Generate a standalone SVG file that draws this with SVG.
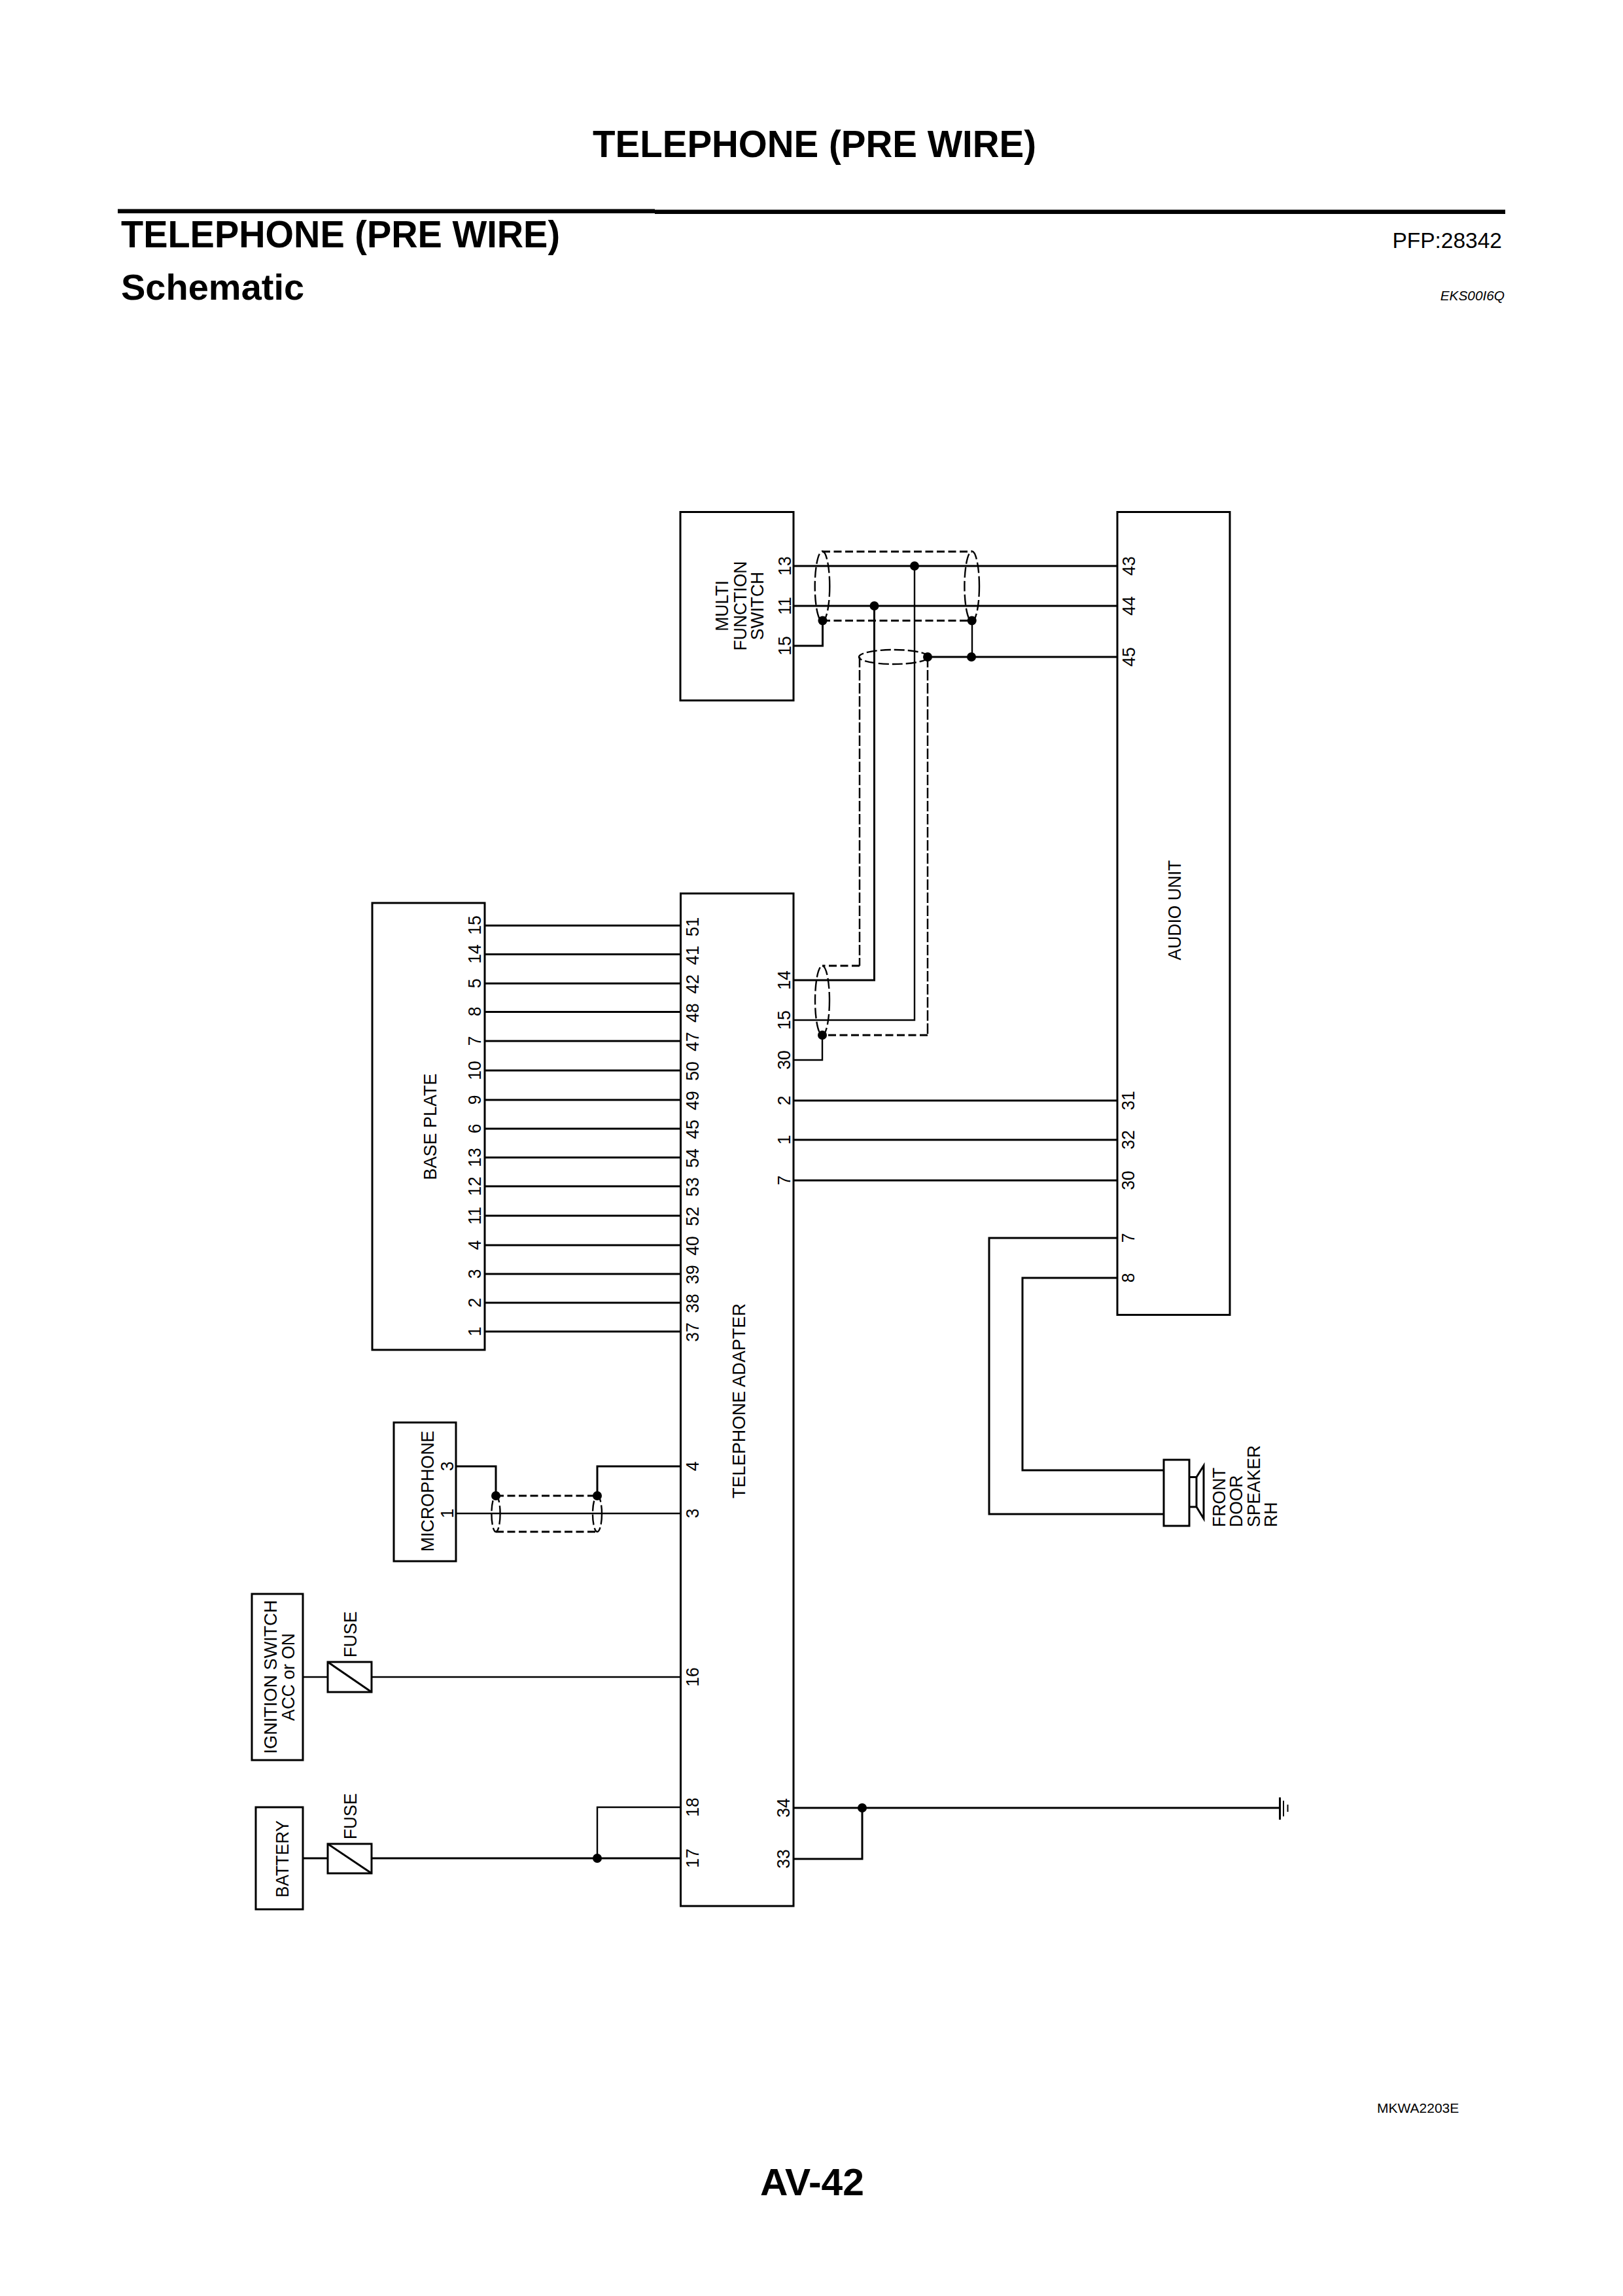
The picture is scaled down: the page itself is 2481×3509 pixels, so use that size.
<svg xmlns="http://www.w3.org/2000/svg" width="2481" height="3509" viewBox="0 0 2481 3509">
<style>
text{font-family:"Liberation Sans",Arial,sans-serif;fill:#000}
.h{font-size:57px;font-weight:bold}
.l{font-size:26.5px;text-anchor:middle}
.s{font-size:26.5px;text-anchor:start}
.b{fill:#fff;stroke:#000;stroke-width:3}
.w{fill:none;stroke:#000;stroke-width:3}
.t{fill:none;stroke:#000;stroke-width:2.4}
.d{fill:none;stroke:#000;stroke-width:3;stroke-dasharray:12 5.5}
.v{fill:none;stroke:#000;stroke-width:2.5;stroke-dasharray:16 4}
.e{fill:none;stroke:#000;stroke-width:2.4;stroke-dasharray:16 5}
.j{fill:#000;stroke:none}
</style>
<rect width="2481" height="3509" fill="#fff"/>
<g id="header">
<text class="h" x="906" y="240" textLength="678" lengthAdjust="spacingAndGlyphs">TELEPHONE (PRE WIRE)</text>
<rect x="180" y="319.5" width="821" height="6.5"/>
<rect x="1001" y="320.5" width="1300" height="6.5"/>
<text class="h" x="185" y="378" textLength="671" lengthAdjust="spacingAndGlyphs">TELEPHONE (PRE WIRE)</text>
<text x="185" y="458" font-size="56" font-weight="bold">Schematic</text>
<text x="2296" y="379" font-size="33.500" text-anchor="end">PFP:28342</text>
<text x="2300" y="459" font-size="20.800" font-style="italic" text-anchor="end">EKS00I6Q</text>
</g>
<g id="multi-function-switch">
<rect class="b" x="1040" y="782.500" width="173" height="288"/>
<text class="l" transform="translate(1113,926) rotate(-90) scale(1,1.05)">MULTI</text>
<text class="l" transform="translate(1141,926) rotate(-90) scale(1,1.05)">FUNCTION</text>
<text class="l" transform="translate(1167,926) rotate(-90) scale(1,1.05)">SWITCH</text>
<text class="l" transform="translate(1209,865) rotate(-90) scale(1,1.05)">13</text>
<text class="l" transform="translate(1209,926) rotate(-90) scale(1,1.05)">11</text>
<text class="l" transform="translate(1209,987) rotate(-90) scale(1,1.05)">15</text>
</g>
<g id="audio-unit">
<rect class="b" x="1708" y="782.500" width="172" height="1227"/>
<text class="l" transform="translate(1805,1391) rotate(-90) scale(1,1.05)">AUDIO UNIT</text>
<text class="l" transform="translate(1735,865) rotate(-90) scale(1,1.05)">43</text>
<text class="l" transform="translate(1735,926) rotate(-90) scale(1,1.05)">44</text>
<text class="l" transform="translate(1735,1004) rotate(-90) scale(1,1.05)">45</text>
<text class="l" transform="translate(1734,1682) rotate(-90) scale(1,1.05)">31</text>
<text class="l" transform="translate(1734,1742) rotate(-90) scale(1,1.05)">32</text>
<text class="l" transform="translate(1734,1804) rotate(-90) scale(1,1.05)">30</text>
<text class="l" transform="translate(1734,1892) rotate(-90) scale(1,1.05)">7</text>
<text class="l" transform="translate(1734,1953) rotate(-90) scale(1,1.05)">8</text>
</g>
<g id="base-plate">
<rect class="b" x="569" y="1380" width="172" height="683"/>
<text class="l" transform="translate(667,1722) rotate(-90) scale(1,1.05)" textLength="163" lengthAdjust="spacingAndGlyphs">BASE PLATE</text>
<text class="l" transform="translate(735,1414) rotate(-90) scale(1,1.05)">15</text>
<text class="l" transform="translate(735,1458) rotate(-90) scale(1,1.05)">14</text>
<text class="l" transform="translate(735,1503) rotate(-90) scale(1,1.05)">5</text>
<text class="l" transform="translate(735,1546) rotate(-90) scale(1,1.05)">8</text>
<text class="l" transform="translate(735,1591) rotate(-90) scale(1,1.05)">7</text>
<text class="l" transform="translate(735,1636) rotate(-90) scale(1,1.05)">10</text>
<text class="l" transform="translate(735,1681) rotate(-90) scale(1,1.05)">9</text>
<text class="l" transform="translate(735,1725) rotate(-90) scale(1,1.05)">6</text>
<text class="l" transform="translate(735,1769) rotate(-90) scale(1,1.05)">13</text>
<text class="l" transform="translate(735,1813) rotate(-90) scale(1,1.05)">12</text>
<text class="l" transform="translate(735,1858) rotate(-90) scale(1,1.05)">11</text>
<text class="l" transform="translate(735,1903) rotate(-90) scale(1,1.05)">4</text>
<text class="l" transform="translate(735,1947) rotate(-90) scale(1,1.05)">3</text>
<text class="l" transform="translate(735,1991) rotate(-90) scale(1,1.05)">2</text>
<text class="l" transform="translate(735,2035) rotate(-90) scale(1,1.05)">1</text>
</g>
<g id="telephone-adapter">
<rect class="b" x="1040.500" y="1365.500" width="172.500" height="1547.500"/>
<text class="l" transform="translate(1139,2141) rotate(-90) scale(1,1.05)" textLength="298" lengthAdjust="spacingAndGlyphs">TELEPHONE ADAPTER</text>
<text class="l" transform="translate(1068,1416.500) rotate(-90) scale(1,1.05)">51</text>
<text class="l" transform="translate(1068,1460) rotate(-90) scale(1,1.05)">41</text>
<text class="l" transform="translate(1068,1504) rotate(-90) scale(1,1.05)">42</text>
<text class="l" transform="translate(1068,1548) rotate(-90) scale(1,1.05)">48</text>
<text class="l" transform="translate(1068,1592) rotate(-90) scale(1,1.05)">47</text>
<text class="l" transform="translate(1068,1637) rotate(-90) scale(1,1.05)">50</text>
<text class="l" transform="translate(1068,1682) rotate(-90) scale(1,1.05)">49</text>
<text class="l" transform="translate(1068,1726) rotate(-90) scale(1,1.05)">45</text>
<text class="l" transform="translate(1068,1770) rotate(-90) scale(1,1.05)">54</text>
<text class="l" transform="translate(1068,1814) rotate(-90) scale(1,1.05)">53</text>
<text class="l" transform="translate(1068,1859) rotate(-90) scale(1,1.05)">52</text>
<text class="l" transform="translate(1068,1904) rotate(-90) scale(1,1.05)">40</text>
<text class="l" transform="translate(1068,1948) rotate(-90) scale(1,1.05)">39</text>
<text class="l" transform="translate(1068,1992) rotate(-90) scale(1,1.05)">38</text>
<text class="l" transform="translate(1068,2036) rotate(-90) scale(1,1.05)">37</text>
<text class="l" transform="translate(1068,2241) rotate(-90) scale(1,1.05)">4</text>
<text class="l" transform="translate(1068,2313) rotate(-90) scale(1,1.05)">3</text>
<text class="l" transform="translate(1068,2563) rotate(-90) scale(1,1.05)">16</text>
<text class="l" transform="translate(1068,2762) rotate(-90) scale(1,1.05)">18</text>
<text class="l" transform="translate(1068,2840) rotate(-90) scale(1,1.05)">17</text>
<text class="l" transform="translate(1208,1498) rotate(-90) scale(1,1.05)">14</text>
<text class="l" transform="translate(1208,1559) rotate(-90) scale(1,1.05)">15</text>
<text class="l" transform="translate(1208,1620) rotate(-90) scale(1,1.05)">30</text>
<text class="l" transform="translate(1208,1682) rotate(-90) scale(1,1.05)">2</text>
<text class="l" transform="translate(1208,1742) rotate(-90) scale(1,1.05)">1</text>
<text class="l" transform="translate(1208,1804) rotate(-90) scale(1,1.05)">7</text>
<text class="l" transform="translate(1207,2763) rotate(-90) scale(1,1.05)">34</text>
<text class="l" transform="translate(1207,2841) rotate(-90) scale(1,1.05)">33</text>
</g>
<g id="microphone">
<rect class="b" x="602" y="2174" width="95" height="212"/>
<text class="l" transform="translate(663,2279) rotate(-90) scale(1,1.05)" textLength="185" lengthAdjust="spacingAndGlyphs">MICROPHONE</text>
<text class="l" transform="translate(693,2241) rotate(-90) scale(1,1.05)">3</text>
<text class="l" transform="translate(693,2313) rotate(-90) scale(1,1.05)">1</text>
</g>
<g id="ignition-switch">
<rect class="b" x="385" y="2436" width="78" height="254"/>
<text class="l" transform="translate(423,2563) rotate(-90) scale(1,1.05)" textLength="235" lengthAdjust="spacingAndGlyphs">IGNITION SWITCH</text>
<text class="l" transform="translate(450,2563) rotate(-90) scale(1,1.05)">ACC or ON</text>
</g>
<g id="battery">
<rect class="b" x="391" y="2762" width="72" height="156"/>
<text class="l" transform="translate(441,2841) rotate(-90) scale(1,1.05)" textLength="118" lengthAdjust="spacingAndGlyphs">BATTERY</text>
</g>
<g id="fuse-ignition">
<rect class="b" x="501" y="2540" width="67" height="46"/>
<path class="w" d="M501 2540L568 2586"/>
<text class="l" transform="translate(545,2498) rotate(-90) scale(1,1.05)">FUSE</text>
</g>
<g id="fuse-battery">
<rect class="b" x="501" y="2818" width="67" height="45"/>
<path class="w" d="M501 2818L568 2863"/>
<text class="l" transform="translate(545,2776) rotate(-90) scale(1,1.05)">FUSE</text>
</g>
<g id="front-door-speaker">
<rect class="b" x="1779" y="2231" width="39" height="101"/>
<path class="w" d="M1818 2257.5H1829V2303H1818M1829 2257.5L1840 2240V2321L1829 2303"/>
<text class="s" transform="translate(1873,2334) rotate(-90) scale(1,1.05)">FRONT</text>
<text class="s" transform="translate(1899,2334) rotate(-90) scale(1,1.05)">DOOR</text>
<text class="s" transform="translate(1926,2334) rotate(-90) scale(1,1.05)">SPEAKER</text>
<text class="s" transform="translate(1952,2334) rotate(-90) scale(1,1.05)">RH</text>
</g>
<g id="ground">
<path class="w" d="M1956.5 2747V2781"/>
<path fill="none" stroke="#000" stroke-width="2" d="M1962 2752V2776M1968.5 2758V2769"/>
</g>
<g id="connectors">
<path class="w" d="M1213 865H1708M1213 926H1708M1418 1004H1708M1213 987H1257.500V949"/>
<path class="t" d="M1486 949V1004M1398 865V1559H1213"/>
<path class="w" d="M1336.500 926V1498H1213"/>
<path class="t" d="M1213 1620H1257V1582"/>
<path class="w" d="M1213 1682H1708M1213 1742H1708M1213 1804H1708"/>
<path class="w" d="M1708 1892H1512V2314H1779M1708 1953H1563V2247H1779"/>
<path class="w" d="M741 1414.500H1040M741 1458.500H1040M741 1503H1040M741 1546.500H1040M741 1591H1040M741 1636H1040M741 1681H1040M741 1725H1040M741 1769H1040M741 1813H1040M741 1858H1040M741 1903H1040M741 1947H1040M741 1991H1040M741 2035H1040"/>
<path class="w" d="M697 2241H758V2286M1040 2241H913V2286"/>
<path class="t" d="M697 2313H1040"/>
<path class="t" d="M463 2563H501M568 2563H1040"/>
<path class="w" d="M463 2840H501M568 2840H1040"/>
<path class="t" d="M913 2840V2762H1040"/>
<path class="w" d="M1213 2763H1956M1213 2841H1318V2763"/>
<path class="d" d="M1257 843H1486M1257 948.500H1486M1314 1476H1257M1418 1582H1257M758 2286H913M758 2341H913"/>
<path class="v" d="M1314 1004V1476M1418 1004V1582"/>
<ellipse class="e" cx="1257" cy="896" rx="11.300" ry="53.500"/>
<ellipse class="e" cx="1485.700" cy="896" rx="11.300" ry="53.500"/>
<ellipse class="e" cx="1366" cy="1004" rx="53" ry="11"/>
<ellipse class="e" cx="1257" cy="1529" rx="11" ry="53"/>
<ellipse class="e" cx="758" cy="2313.500" rx="6.600" ry="27.500"/>
<ellipse class="e" cx="913" cy="2313.500" rx="7" ry="27.500"/>
<g class="j">
<circle cx="1398" cy="865" r="7"/>
<circle cx="1336.500" cy="926" r="7"/>
<circle cx="1257.500" cy="948.500" r="7"/>
<circle cx="1485.700" cy="948.500" r="7"/>
<circle cx="1418" cy="1004" r="7"/>
<circle cx="1485" cy="1004" r="7"/>
<circle cx="1257" cy="1582" r="7"/>
<circle cx="758" cy="2286" r="7"/>
<circle cx="913" cy="2286" r="7"/>
<circle cx="913" cy="2840" r="7"/>
<circle cx="1318" cy="2763" r="7"/>
</g>
</g>
<g id="footer">
<text x="2105" y="3229" font-size="21">MKWA2203E</text>
<text x="1162" y="3355" font-size="57" font-weight="bold" textLength="159" lengthAdjust="spacingAndGlyphs">AV-42</text>
</g>
</svg>
